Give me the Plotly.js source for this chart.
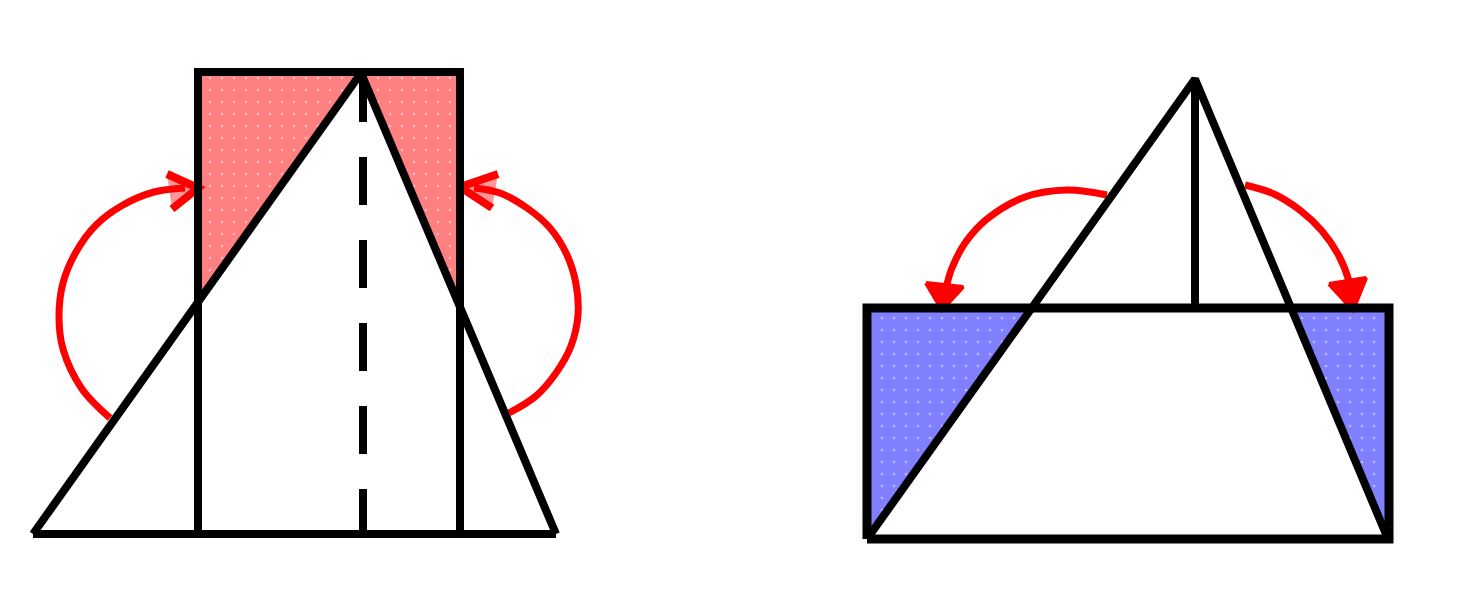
<!DOCTYPE html>
<html>
<head>
<meta charset="utf-8">
<script src="https://cdn.plot.ly/plotly-3.0.1.min.js"></script>
<style>
  html, body { margin: 0; padding: 0; background: #fff; }
  #graph { width: 1471px; height: 608px; }
</style>
</head>
<body>
<div id="graph"></div>
<script>
/* left figure: triangle inside a tall rectangle (pixel coords, y down) */
const leftTriX = [33, 361, 556];
const leftTriY = [534, 73, 534];
const leftBaseX = [33, 556];
const leftBaseY = [534, 534];
const leftRectX = [198, 198, 460, 460];
const leftRectY = [534, 72, 72, 534];
const leftDashX = [363, 363];
const leftDashY = [74, 534];
const leftFillAX = [198, 361, 198];
const leftFillAY = [72, 72, 302];
const leftFillBX = [363, 460, 460];
const leftFillBY = [72, 72, 305];

/* left figure arcs */
const arcLAX = [110, 82, 63, 59, 63, 76, 96, 123, 154, 185];
const arcLAY = [418, 389, 349, 316, 283, 252, 225, 205, 192, 188];
const headLAX = [167, 198, 172];
const headLAY = [174, 188, 209];
const arcLBX = [509, 536, 556, 571, 578, 576, 567, 550, 527, 500, 474];
const arcLBY = [413, 396, 373, 346, 315, 284, 255, 228, 208, 193, 188];
const headLBX = [498, 460, 492];
const headLBY = [174, 187, 208];

/* right figure: triangle on a wide rectangle */
const rightTriX = [867, 1195, 1388];
const rightTriY = [539, 79, 539];
const rightRectX = [867, 867, 1389, 1389, 867];
const rightRectY = [539, 308, 308, 539, 539];
const rightVertX = [1195, 1195];
const rightVertY = [79, 308];
const rightFillAX = [867, 1031, 867];
const rightFillAY = [308, 308, 539];
const rightFillBX = [1291, 1389, 1389];
const rightFillBY = [308, 308, 539];

/* right figure arcs */
const arcRAX = [1107, 1067, 1025, 987, 965, 952, 947];
const arcRAY = [195, 190, 197, 219, 243, 268, 284];
const headRAX = [926, 942, 963];
const headRAY = [283, 310, 287];
const arcRBX = [1245, 1274, 1301, 1322, 1339, 1349, 1350];
const arcRBY = [185, 194, 211, 231, 256, 281, 286];
const headRBX = [1329, 1353, 1366];
const headRBY = [284, 310, 278];

function fillTrace(x, y, color) {
    return {
        x: x.concat([x[0]]),
        y: y.concat([y[0]]),
        mode: "lines",
        fill: "toself",
        fillcolor: color,
        fillpattern: {
            shape: ".", bgcolor: color, fgcolor: "#ffffff",
            fgopacity: 0.45, size: 12, solidity: 0.04,
        },
        line: { width: 0, color: color },
        hoverinfo: "skip",
    };
}

function lineTrace(x, y, color, width, dash) {
    return {
        x: x,
        y: y,
        mode: "lines",
        line: { color: color, width: width, dash: dash || "solid" },
        hoverinfo: "skip",
    };
}

function arcTrace(x, y) {
    return {
        x: x,
        y: y,
        mode: "lines",
        line: { color: "#ff0000", width: 7, shape: "spline", smoothing: 1 },
        hoverinfo: "skip",
    };
}

function headTrace(x, y, alpha) {
    return {
        x: x.concat([x[0]]),
        y: y.concat([y[0]]),
        mode: "lines",
        fill: "toself",
        fillcolor: "rgba(255,0,0," + alpha + ")",
        line: { width: 0 },
        hoverinfo: "skip",
    };
}

const data = [
    fillTrace(leftFillAX, leftFillAY, "#ff8080"),
    fillTrace(leftFillBX, leftFillBY, "#ff8080"),
    fillTrace(rightFillAX, rightFillAY, "#8080ff"),
    fillTrace(rightFillBX, rightFillBY, "#8080ff"),

    arcTrace(arcLAX, arcLAY),
    arcTrace(arcLBX, arcLBY),
    arcTrace(arcRAX, arcRAY),
    arcTrace(arcRBX, arcRBY),
    headTrace(headLAX, headLAY, 0.4),
    headTrace(headLBX, headLBY, 0.4),
    headTrace(headRAX, headRAY, 1),
    headTrace(headRBX, headRBY, 1),
    lineTrace(headLAX, headLAY, "#ff0000", 8),
    lineTrace(headLBX, headLBY, "#ff0000", 8),
    lineTrace(headRAX.concat([headRAX[0]]), headRAY.concat([headRAY[0]]), "#ff0000", 4),
    lineTrace(headRBX.concat([headRBX[0]]), headRBY.concat([headRBY[0]]), "#ff0000", 4),

    lineTrace(leftRectX, leftRectY, "#000000", 8),
    lineTrace(leftBaseX, leftBaseY, "#000000", 8),
    lineTrace(leftTriX, leftTriY, "#000000", 8),
    lineTrace(leftDashX, leftDashY, "#000000", 8, "48px,35px"),

    lineTrace(rightRectX, rightRectY, "#000000", 9),
    lineTrace(rightTriX, rightTriY, "#000000", 8),
    lineTrace(rightVertX, rightVertY, "#000000", 8),
];

const hidden = {
    visible: false,
    showgrid: false,
    zeroline: false,
    fixedrange: true,
};

const layout = {
    width: 1471,
    height: 608,
    margin: { l: 0, r: 0, t: 0, b: 0 },
    showlegend: false,
    paper_bgcolor: "#ffffff",
    plot_bgcolor: "#ffffff",
    xaxis: Object.assign({ range: [0, 1471] }, hidden),
    yaxis: Object.assign({ range: [608, 0] }, hidden),
};

Plotly.newPlot("graph", data, layout, { staticPlot: true });
</script>
</body>
</html>
